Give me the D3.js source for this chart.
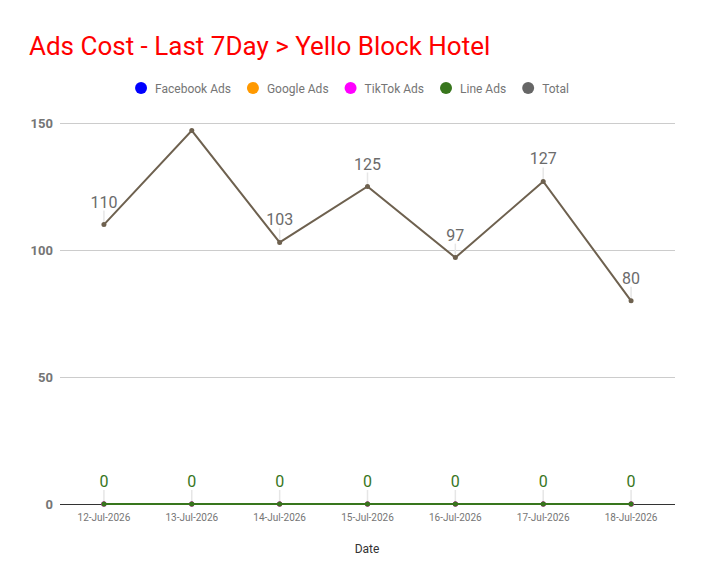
<!DOCTYPE html>
<html>
<head>
<meta charset="utf-8">
<script src="https://cdn.jsdelivr.net/npm/d3@7"></script>
<style>
  body { margin: 0; background: #fff; font-family: Roboto, "Noto Sans", sans-serif; }
  svg text { font-family: Roboto, "Noto Sans", sans-serif; }
</style>
</head>
<body>
<svg id="chart" width="704" height="585"></svg>
<script>
// ── Data ──────────────────────────────────────────
const dates = ['12-Jul-2026', '13-Jul-2026', '14-Jul-2026', '15-Jul-2026',
               '16-Jul-2026', '17-Jul-2026', '18-Jul-2026'];
const facebookAds = [0, 0, 0, 0, 0, 0, 0];
const googleAds   = [0, 0, 0, 0, 0, 0, 0];
const tiktokAds   = [0, 0, 0, 0, 0, 0, 0];
const lineAds     = [0, 0, 0, 0, 0, 0, 0];
const total       = [110, 147, 103, 125, 97, 127, 80];
const yTicks      = [0, 50, 100, 150];

const series = [
  { name: 'Facebook Ads', values: facebookAds, color: '#0000ff', legend: '#0000ff', labels: false },
  { name: 'Google Ads',   values: googleAds,   color: '#ff9900', legend: '#ff9900', labels: false },
  { name: 'TikTok Ads',   values: tiktokAds,   color: '#ff00ff', legend: '#ff00ff', labels: false },
  { name: 'Total',        values: total,       color: '#6e614f', legend: '#666666', labels: true, labelColor: '#6b6b6b' },
  { name: 'Line Ads',     values: lineAds,     color: '#38761d', legend: '#38761d', labels: true, labelColor: '#38761d' }
];
const legendOrder = ['Facebook Ads', 'Google Ads', 'TikTok Ads', 'Line Ads', 'Total'];

// ── Layout ────────────────────────────────────────
const M = { left: 60, right: 675, top: 123, bottom: 504 };
const svg = d3.select('#chart');

const x = d3.scalePoint().domain(dates).range([M.left, M.right]).padding(0.5);
const y = d3.scaleLinear().domain([0, 150]).range([M.bottom, M.top]);

// labels that would run above the plot top are hidden (as in the source chart)
const labelFits = v => y(v) - 20 >= M.top;

// Title
svg.append('text')
  .attr('x', 29).attr('y', 55)
  .attr('font-size', 26)
  .attr('fill', '#ff0000')
  .text('Ads Cost - Last 7Day > Yello Block Hotel');

// Legend
const legend = svg.append('g');
let lx = 0;
legendOrder.forEach(name => {
  const s = series.find(d => d.name === name);
  const g = legend.append('g').attr('transform', `translate(${lx},0)`);
  g.append('circle').attr('cx', 6).attr('cy', 0).attr('r', 6).attr('fill', s.legend);
  const t = g.append('text')
    .attr('x', 20).attr('y', 4.5)
    .attr('font-size', 12)
    .attr('fill', '#757575')
    .text(name);
  lx += 20 + t.node().getComputedTextLength() + 16;
});
lx -= 16;
legend.attr('transform', `translate(${352 - lx / 2},88)`);

// Gridlines
svg.append('g')
  .selectAll('line')
  .data(yTicks.filter(d => d > 0))
  .join('line')
  .attr('x1', M.left).attr('x2', M.right)
  .attr('y1', d => y(d) + 0.5).attr('y2', d => y(d) + 0.5)
  .attr('stroke', '#cccccc').attr('stroke-width', 1);

// Y axis labels
svg.append('g')
  .selectAll('text')
  .data(yTicks)
  .join('text')
  .attr('x', 53).attr('y', d => y(d) + 4.5)
  .attr('text-anchor', 'end')
  .attr('font-size', 13)
  .attr('font-weight', 'bold')
  .attr('fill', '#757575')
  .text(d => d);

// X axis baseline
svg.append('line')
  .attr('x1', M.left).attr('x2', M.right)
  .attr('y1', y(0) + 0.5).attr('y2', y(0) + 0.5)
  .attr('stroke', '#333333').attr('stroke-width', 1);

// X tick labels
svg.append('g')
  .selectAll('text')
  .data(dates)
  .join('text')
  .attr('x', d => x(d)).attr('y', 521)
  .attr('text-anchor', 'middle')
  .attr('font-size', 10)
  .attr('fill', '#757575')
  .text(d => d);

// X axis title
svg.append('text')
  .attr('x', 367).attr('y', 553)
  .attr('text-anchor', 'middle')
  .attr('font-size', 12)
  .attr('fill', '#333333')
  .text('Date');

// Leader lines for labels (drawn under the lines)
const leaders = svg.append('g');
series.filter(s => s.labels).forEach(s => {
  s.values.forEach((v, i) => {
    if (!labelFits(v)) return;
    leaders.append('line')
      .attr('x1', x(dates[i])).attr('x2', x(dates[i]))
      .attr('y1', y(v) - 2).attr('y2', y(v) - 14)
      .attr('stroke', '#e6e6e6').attr('stroke-width', 1.5);
  });
});

// Lines + points
const line = d3.line().x((d, i) => x(dates[i])).y(d => y(d));
series.forEach(s => {
  svg.append('path')
    .datum(s.values)
    .attr('fill', 'none')
    .attr('stroke', s.color)
    .attr('stroke-width', 2)
    .attr('d', line);
  svg.append('g')
    .selectAll('circle')
    .data(s.values)
    .join('circle')
    .attr('cx', (d, i) => x(dates[i]))
    .attr('cy', d => y(d))
    .attr('r', 2.5)
    .attr('fill', s.color);
});

// Data labels
series.filter(s => s.labels).forEach(s => {
  const pts = s.values.map((v, i) => ({ v, date: dates[i] })).filter(p => labelFits(p.v));
  svg.append('g')
    .selectAll('text')
    .data(pts)
    .join('text')
    .attr('x', p => x(p.date))
    .attr('y', p => y(p.v) - 17)
    .attr('text-anchor', 'middle')
    .attr('font-size', 16)
    .attr('fill', s.labelColor)
    .text(p => p.v);
});
</script>
</body>
</html>
